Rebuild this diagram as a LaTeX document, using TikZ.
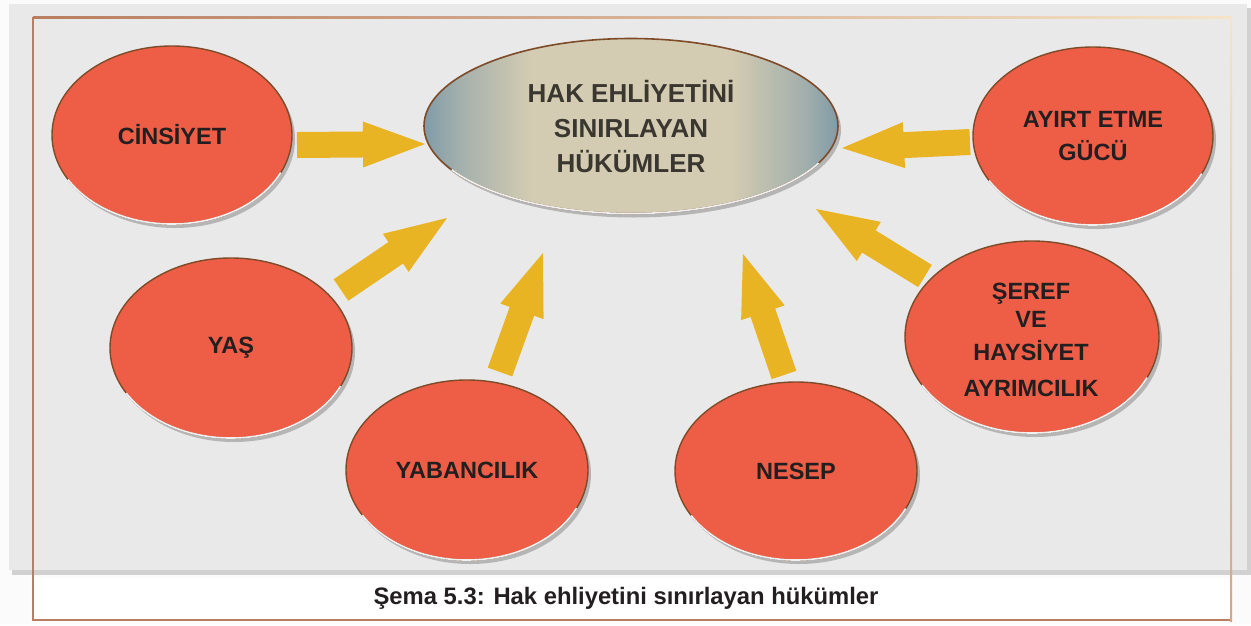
\documentclass[tikz,border=0pt]{standalone}
\usepackage{fontspec}
\setmainfont{Liberation Sans}
\usetikzlibrary{calc,shapes.geometric,shadows,fadings}
\definecolor{panelgray}{RGB}{233,233,234}
\definecolor{ovalred}{RGB}{238,94,71}
\definecolor{arrowyellow}{RGB}{233,180,35}
\definecolor{rimbrown}{RGB}{125,75,40}
\definecolor{framebrown}{RGB}{185,125,95}
\definecolor{framecream}{RGB}{245,228,200}
\definecolor{textdark}{RGB}{35,31,32}
\definecolor{hubtan}{RGB}{212,204,178}
\definecolor{hubblue}{RGB}{128,155,168}
\pgfdeclarehorizontalshading{hubshade}{100bp}{color(0bp)=(hubblue); color(25bp)=(hubblue); color(29bp)=(hubblue!60!hubtan); color(38bp)=(hubtan); color(62bp)=(hubtan); color(71bp)=(hubblue!60!hubtan); color(75bp)=(hubblue); color(100bp)=(hubblue)}
\tikzset{
  oval/.style={ellipse, fill=ovalred, draw=rimbrown, line width=1.4pt, inner sep=0pt,
    font=\fontsize{23.5}{33}\selectfont\bfseries, text=textdark, align=center,
    drop shadow={shadow xshift=3pt, shadow yshift=-4pt, opacity=0.22, fill=black}},
  hub/.style={ellipse, draw=rimbrown, line width=1.6pt, inner sep=0pt,
    shading=hubshade, font=\fontsize{26}{35}\selectfont\bfseries, text={rgb,255:red,58;green,54;blue,48}, align=center,
    drop shadow={shadow xshift=3pt, shadow yshift=-4pt, opacity=0.22, fill=black}},
}
\newcommand\blockarrow[2]{%
  \fill[arrowyellow] let \p1=(#1), \p2=(#2),
    \n1={atan2(\y2-\y1,\x2-\x1)}, \n2={veclen(\x2-\x1,\y2-\y1)} in
    ($(\p1)+(\n1+90:13pt)$)
    -- ($(\p1)+(\n1:{(\n2-62)*1pt})+(\n1+90:13pt)$)
    -- ($(\p1)+(\n1:{(\n2-62)*1pt})+(\n1+90:23pt)$)
    -- (\p2)
    -- ($(\p1)+(\n1:{(\n2-62)*1pt})+(\n1-90:23pt)$)
    -- ($(\p1)+(\n1:{(\n2-62)*1pt})+(\n1-90:13pt)$)
    -- ($(\p1)+(\n1-90:13pt)$) -- cycle;}
\newcommand\lowrim[3]{% name, rx, ry : light rim on lower side
  \draw[white!88!gray, line width=1.6pt] ($(#1.center)+(-25:#2pt and #3pt)$) arc[start angle=-25, end angle=-150, x radius=#2pt, y radius=#3pt];}
\begin{document}
\begin{tikzpicture}[x=1pt,y=-1pt]
\useasboundingbox (0,0) rectangle (1251,625);
\fill[white!97!gray] (0,0) rectangle (1251,625);
% gray panel with shadow
\fill[black!18] (12,8) rectangle (1251,575);
\fill[panelgray] (9,4) rectangle (1247,570);
% caption strip
\fill[white] (33,578) rectangle (1231,621);
% frame
\draw[framebrown, line width=1.6pt] (1231,620) -- (33,620) -- (33,17);
\shade[left color=framebrown, right color=framecream] (33,16.2) rectangle (1231,18.2);
\shade[top color=framecream, bottom color=framebrown!60!framecream] (1230,17) rectangle (1232,621);

% central node
\node[hub, minimum width=414pt, minimum height=175pt] (hub) at (631,126)
  {HAK EHLİYETİNİ\\SINIRLAYAN\\HÜKÜMLER};

% outer nodes
\node[oval, minimum width=240pt, minimum height=178pt] (cins) at (172,135) {CİNSİYET};
\node[oval, minimum width=240pt, minimum height=178pt] (ayirt) at (1093,136) {AYIRT ETME\\GÜCÜ};
\node[oval, minimum width=242pt, minimum height=180pt] (yas) at (231,348) {YAŞ};
\node[oval, minimum width=242pt, minimum height=180pt] (yab) at (467,470) {YABANCILIK};
\node[oval, minimum width=242pt, minimum height=178pt] (nesep) at (796,471) {NESEP};
\node[oval, minimum width=254pt, minimum height=192pt] (seref) at (1032,337) {};
\node[font=\fontsize{23.5}{33}\selectfont\bfseries, text=textdark, align=center] (seref-t) at (1031,340)
  {ŞEREF\\[-5pt]VE\\HAYSİYET\\[3pt]AYRIMCILIK};

\lowrim{cins}{120}{89}
\lowrim{ayirt}{120}{89}
\lowrim{yas}{121}{90}
\lowrim{yab}{121}{90}
\lowrim{nesep}{121}{89}
\lowrim{seref}{127}{96}
\lowrim{hub}{207}{87.5}

% arrow end points
\coordinate (t1) at (297,145); \coordinate (h1) at (425,144);
\coordinate (t2) at (970,142); \coordinate (h2) at (842,148);
\coordinate (t3) at (341,290); \coordinate (h3) at (447,218);
\coordinate (t4) at (500,372); \coordinate (h4) at (543,253);
\coordinate (t5) at (784,375); \coordinate (h5) at (743,254);
\coordinate (t6) at (925,276); \coordinate (h6) at (816,209);
\blockarrow{t1}{h1}
\blockarrow{t2}{h2}
\blockarrow{t3}{h3}
\blockarrow{t4}{h4}
\blockarrow{t5}{h5}
\blockarrow{t6}{h6}

% caption
\node[font=\fontsize{23.8}{27}\selectfont\bfseries, text=textdark] (cap) at (626,598)
  {Şema 5.3: Hak ehliyetini sınırlayan hükümler};
\end{tikzpicture}
\end{document}
